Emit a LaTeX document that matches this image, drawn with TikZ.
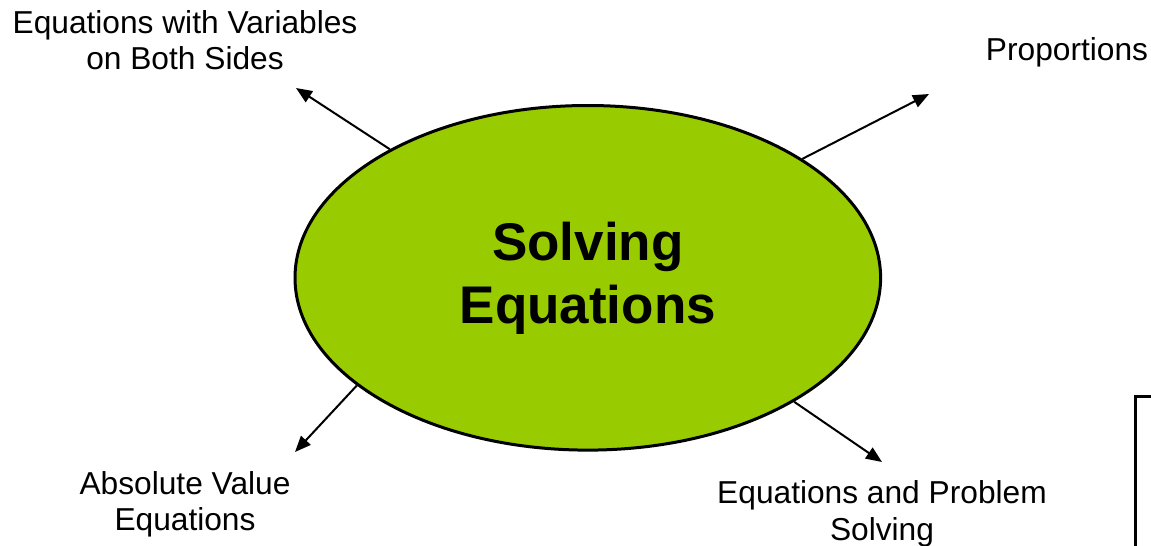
\documentclass[tikz,border=0pt]{standalone}
\usepackage{fontspec}
\setmainfont{Liberation Sans}
\usetikzlibrary{arrows.meta,shapes.geometric}
\definecolor{lime}{HTML}{99CC00}
\tikzset{
  label/.style={align=center, inner sep=0pt, font=\fontsize{31.7}{36.5}\selectfont},
  conn/.style={line width=2pt, -{Triangle[length=16pt,width=13pt]}},
}
\begin{document}
\begin{tikzpicture}[x=1pt,y=-1pt]
\useasboundingbox (0,0) rectangle (1151,546);
\node[ellipse, draw, line width=3pt, fill=lime, minimum width=585.6pt, minimum height=344.6pt, inner sep=0pt,
      align=center, font=\fontsize{53}{63}\selectfont\bfseries] (ell) at (587.8,277.8) {Solving\\Equations};
\node[label] (tl) at (185,40) {Equations with Variables\\on Both Sides};
\node[label] (tr) at (1067,52) {Proportions};
\node[label] (bl) at (185,504.5) {Absolute Value\\Equations};
\node[label] (br) at (882,514) {Equations and Problem\\Solving};
\coordinate (ptl) at (296,88);
\coordinate (ptr) at (929,94);
\coordinate (pbl) at (295,452);
\coordinate (pbr) at (882,462);
\draw[conn] (ell.147) -- (ptl);
\draw[conn] (ell.29.4) -- (ptr);
\draw[conn] (ell.205.3) -- (pbl);
\draw[conn] (ell.-31.1) -- (pbr);
\draw[line width=3pt] (1151,396) -- (1135,396) -- (1135,546);
\end{tikzpicture}
\end{document}
